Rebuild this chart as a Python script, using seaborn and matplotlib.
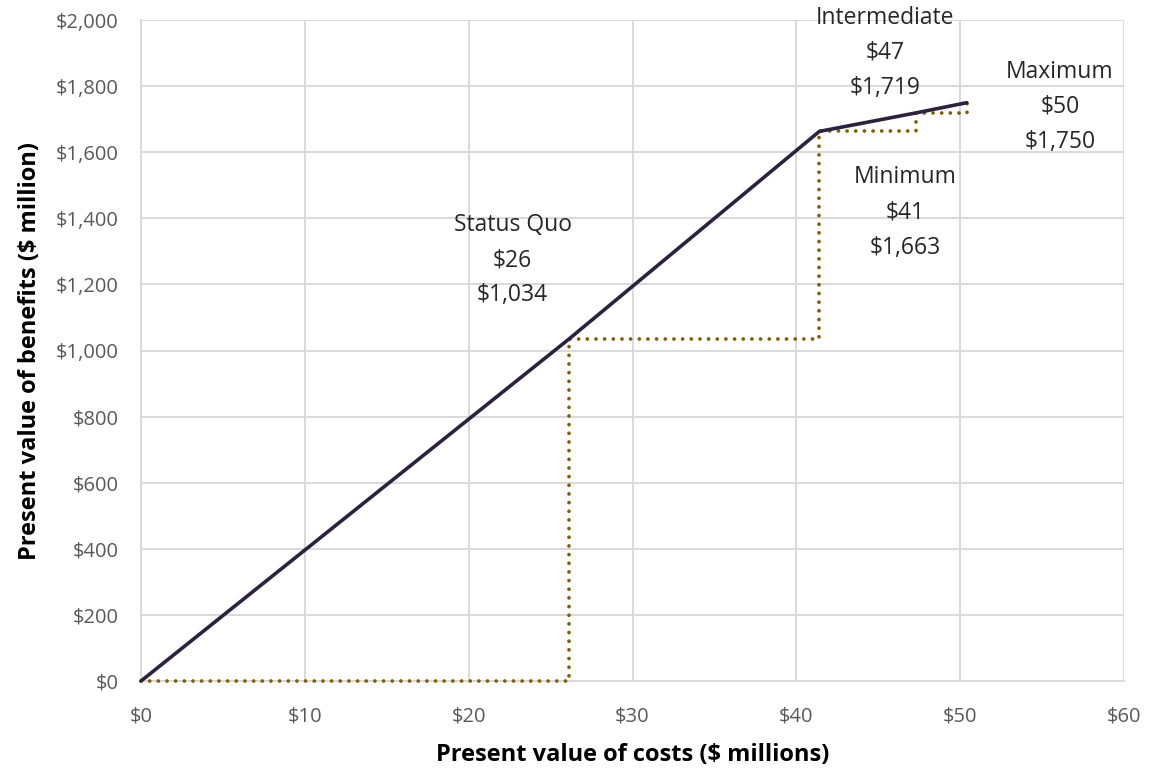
import matplotlib
matplotlib.use("Agg")
import matplotlib.pyplot as plt
import seaborn as sns
import pandas as pd
from matplotlib.ticker import FuncFormatter, MultipleLocator

# Data
scenarios = ["Origin", "Status Quo", "Minimum", "Intermediate", "Maximum"]
costs = [0, 26.1, 41.4, 47.3, 50.4]
benefits = [0, 1034, 1663, 1719, 1750]
cost_labels = ["", "$26", "$41", "$47", "$50"]
benefit_labels = ["", "$1,034", "$1,663", "$1,719", "$1,750"]

df = pd.DataFrame({"scenario": scenarios, "cost": costs, "benefit": benefits})

sns.set_theme(style="white")
plt.rcParams['font.family'] = ['Open Sans', 'DejaVu Sans']

fig = plt.figure(figsize=(11.51, 7.71), dpi=100)
ax = fig.add_axes([0.1225, 0.1167, 0.8541, 0.8573])

# dotted step line
ax.plot(df["cost"], df["benefit"], drawstyle="steps-post", color="#7f6000",
        linestyle=(0, (0.01, 2.3)), linewidth=2.7, dash_capstyle="round",
        clip_on=False, zorder=5)
# solid frontier line
sns.lineplot(data=df, x="cost", y="benefit", sort=False, ax=ax, color="#2d2140",
             linewidth=2.6, zorder=6, clip_on=False)

ax.set_xlim(0, 60)
ax.set_ylim(0, 2000)
ax.xaxis.set_major_locator(MultipleLocator(10))
ax.yaxis.set_major_locator(MultipleLocator(200))
ax.xaxis.set_major_formatter(FuncFormatter(lambda v, p: f"${v:,.0f}"))
ax.yaxis.set_major_formatter(FuncFormatter(lambda v, p: f"${v:,.0f}"))
ax.grid(True, color="#d9d9d9", linewidth=1.4)
ax.set_axisbelow(True)
for s in ["top", "right"]:
    ax.spines[s].set_visible(False)
for s in ["left", "bottom"]:
    ax.spines[s].set_color("#d9d9d9")
    ax.spines[s].set_linewidth(1.4)
ax.tick_params(axis="both", colors="#595959", labelsize=14.5, length=0)
ax.tick_params(axis="y", pad=16)
ax.tick_params(axis="x", pad=18)

ax.set_xlabel("Present value of costs ($ millions)", fontsize=17, fontweight="bold",
              color="black", labelpad=12)
ax.set_ylabel("Present value of benefits ($ million)", fontsize=17, fontweight="bold",
              color="black", labelpad=10)

offsets = {"Status Quo": (-56, 79), "Minimum": (86, -81),
           "Intermediate": (-31, 60), "Maximum": (93, -4)}
for i, name in enumerate(scenarios):
    if name not in offsets:
        continue
    ax.annotate(f"{name}\n{cost_labels[i]}\n{benefit_labels[i]}",
                xy=(costs[i], benefits[i]), xytext=offsets[name],
                textcoords="offset pixels", ha="center", va="center",
                fontsize=16.5, color="#262626", linespacing=1.62,
                annotation_clip=False, zorder=7)

fig.savefig("out.png", dpi=100)
